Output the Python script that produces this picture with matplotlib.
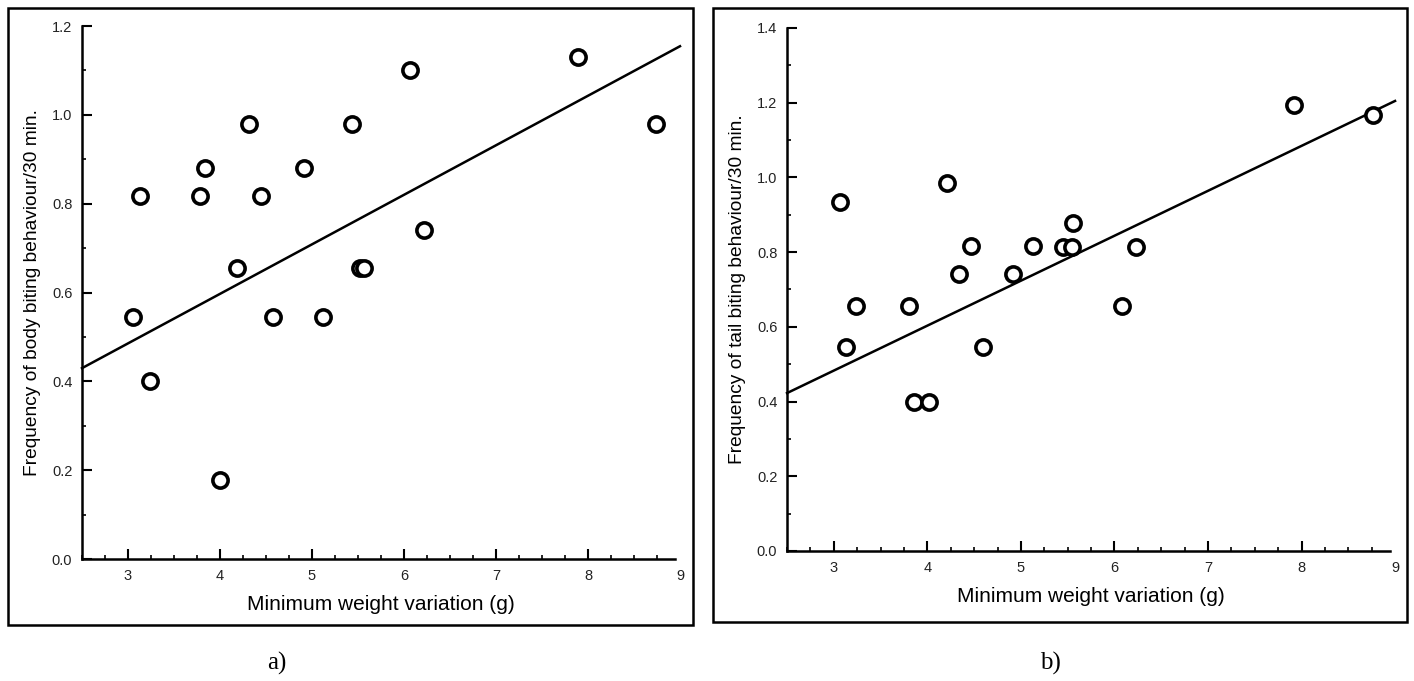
import matplotlib
matplotlib.use("Agg")
import matplotlib.pyplot as plt
import numpy as np
from matplotlib.patches import Rectangle
from matplotlib.ticker import MultipleLocator

plt.rcParams['font.family'] = ['Liberation Sans', 'DejaVu Sans']

# Panel a) body biting
body_x = [3.05, 3.13, 3.24, 3.78, 3.84, 4.00, 4.19, 4.32, 4.45, 4.58, 4.91,
          5.12, 5.43, 5.52, 5.56, 6.06, 6.22, 7.89, 8.74]
body_y = [0.545, 0.818, 0.40, 0.818, 0.88, 0.178, 0.655, 0.98, 0.818, 0.545,
          0.88, 0.545, 0.98, 0.655, 0.655, 1.10, 0.74, 1.13, 0.98]
body_fit = [0.1115, 0.151]   # slope, intercept

# Panel b) tail biting
tail_x = [3.07, 3.13, 3.24, 3.80, 3.86, 4.02, 4.21, 4.34, 4.47, 4.60, 4.92,
          5.13, 5.45, 5.55, 5.56, 6.08, 6.23, 7.92, 8.76]
tail_y = [0.934, 0.546, 0.656, 0.656, 0.40, 0.40, 0.985, 0.741, 0.816, 0.546,
          0.741, 0.816, 0.814, 0.814, 0.878, 0.656, 0.814, 1.194, 1.167]
tail_fit = [0.1203, 0.122]

x_ticks = [3, 4, 5, 6, 7, 8, 9]
fit_range = [2.5, 9.0]

fig = plt.figure(figsize=(14.14, 6.81), dpi=100)


def panel(rect, xs, ys, fit, ymax, ylabel):
    ax = fig.add_axes(rect)
    ax.scatter(xs, ys, s=120, facecolors='white', edgecolors='black',
               linewidths=2.6, zorder=3)
    lx = np.array(fit_range)
    ax.plot(lx, fit[0] * lx + fit[1], color='black', lw=1.8, zorder=2,
            clip_on=False)
    ax.set_xlim(2.5, 9)
    ax.set_ylim(0, ymax)
    for s in ('top', 'right'):
        ax.spines[s].set_visible(False)
    for s in ('left', 'bottom'):
        ax.spines[s].set_linewidth(1.8)
    ax.spines['bottom'].set_bounds(2.5, 8.95)
    ax.set_xticks(x_ticks)
    ax.set_xticklabels([str(v) for v in x_ticks])
    ax.xaxis.set_minor_locator(MultipleLocator(0.25))
    ax.yaxis.set_major_locator(MultipleLocator(0.2))
    ax.yaxis.set_minor_locator(MultipleLocator(0.1))
    ax.tick_params(which='major', direction='in', length=7, width=1.5,
                   labelsize=10.5, pad=7, labelcolor='#222222')
    ax.tick_params(which='minor', direction='in', length=3, width=1.2)
    ax.set_yticklabels([f"{v:.1f}" for v in ax.get_yticks()])
    # the axis line stops short of 9, so no tick mark there
    ax.xaxis.get_major_ticks()[-1].tick1line.set_visible(False)
    ax.set_xlabel("Minimum weight variation (g)", fontsize=15, labelpad=9)
    ax.set_ylabel(ylabel, fontsize=13.8, labelpad=8)
    return ax


panel([0.058, 0.1791, 0.4229, 0.7827], body_x, body_y, body_fit, 1.2,
      "Frequency of body biting behaviour/30 min.")
panel([0.5566, 0.1909, 0.4300, 0.7680], tail_x, tail_y, tail_fit, 1.4,
      "Frequency of tail biting behaviour/30 min.")

# Frames around each panel
W, H = 1414, 681
for (x0, y0, x1, y1) in [(8, 8, 693, 625), (713, 8, 1407, 622)]:
    fig.patches.append(Rectangle((x0 / W, 1 - y1 / H), (x1 - x0) / W,
                                 (y1 - y0) / H, transform=fig.transFigure,
                                 fill=False, edgecolor='black', lw=1.8))

fig.text(277 / W, 1 - 663 / H, "a)", ha='center', va='center', fontsize=18,
         family='Liberation Serif')
fig.text(1050 / W, 1 - 663 / H, "b)", ha='center', va='center', fontsize=18,
         family='Liberation Serif')

fig.savefig("out.png", dpi=100)
